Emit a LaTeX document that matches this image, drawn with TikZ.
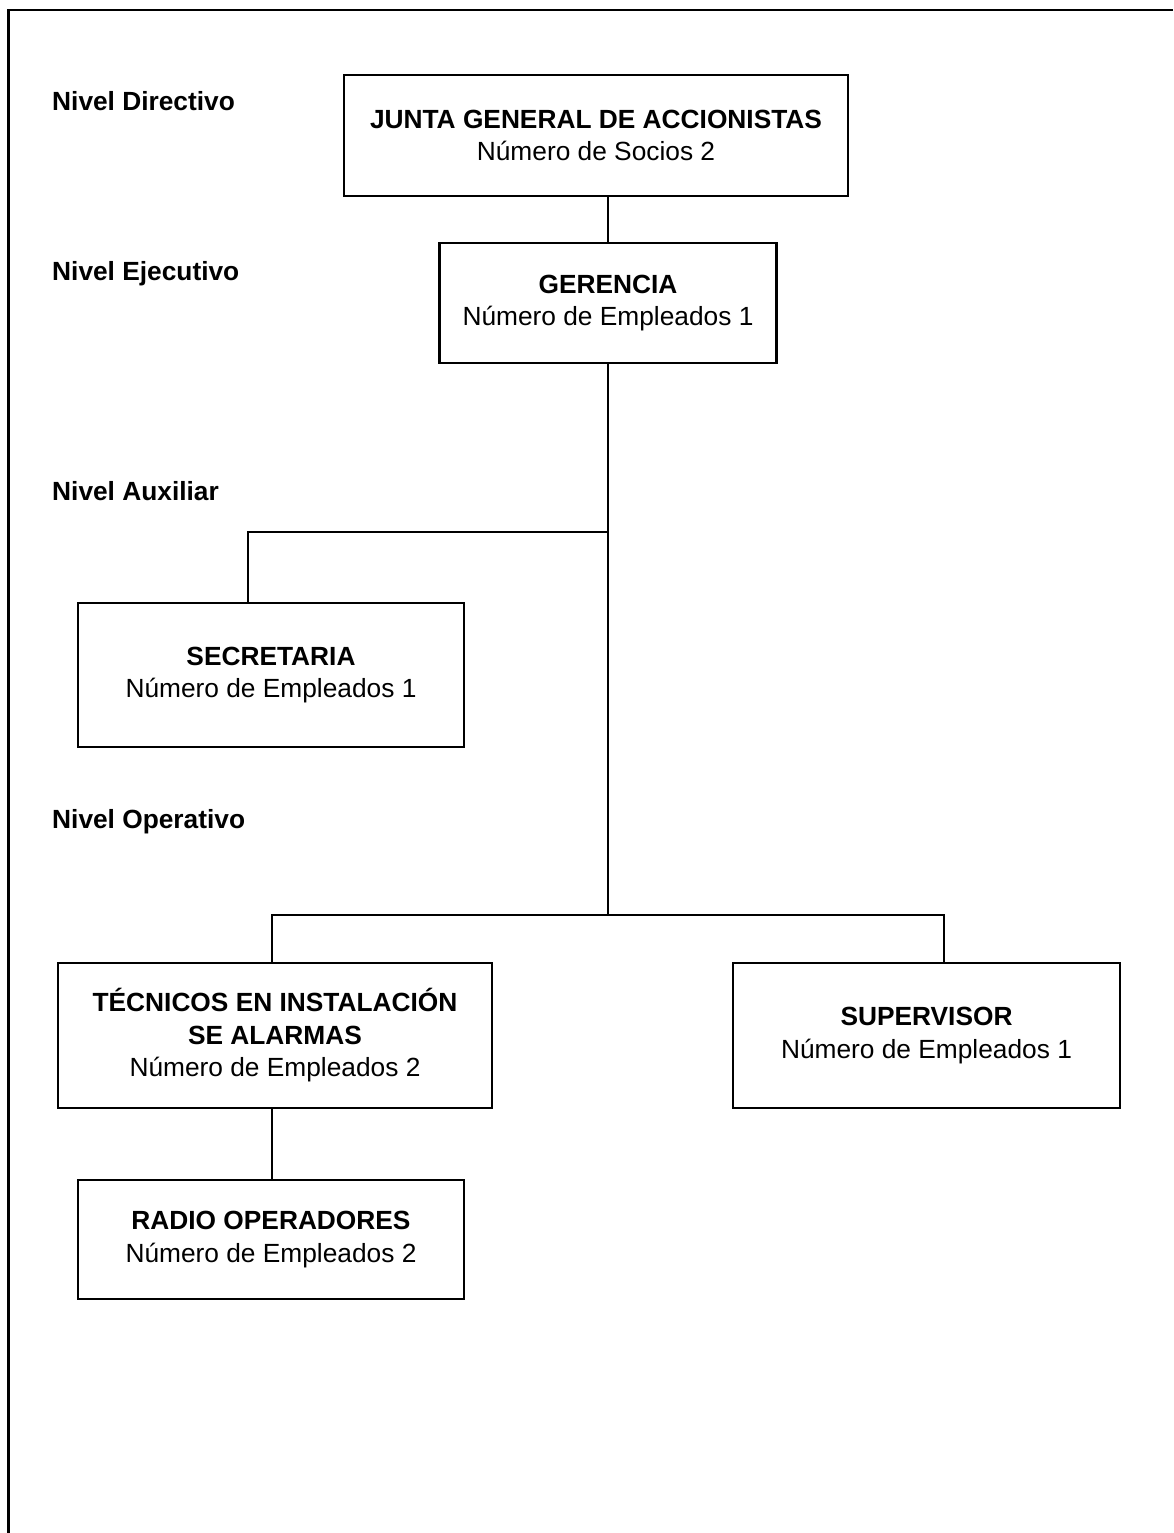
\documentclass[tikz,border=0pt]{standalone}
\usepackage{fontspec}
\setmainfont{Liberation Sans}
\begin{document}
\begin{tikzpicture}[x=1pt,y=-1pt,
  unit/.style={draw=black,line width=2.2pt,align=center,inner sep=0pt,
    font=\fontsize{26.3}{32.5}\selectfont},
  link/.style={draw=black,line width=1.9pt},
  level/.style={anchor=base west,inner sep=0pt,
    font=\fontsize{26.3}{32}\selectfont\bfseries}]
\useasboundingbox (0,0) rectangle (1173,1533);
\fill[white] (0,0) rectangle (1173,1533);

% page frame (open on the right and bottom)
\draw[line width=2.4pt] (1173,10) -- (8.5,10) -- (8.5,1533);

% hierarchy levels
\node[level] (lvdir) at (52,111) {Nivel Directivo};
\node[level] (lveje) at (52,280) {Nivel Ejecutivo};
\node[level] (lvaux) at (52,500) {Nivel Auxiliar};
\node[level] (lvope) at (52,828) {Nivel Operativo};

% units
\node[unit,minimum width=504pt,minimum height=121pt] (junta) at (596,135.5)
  {\textbf{JUNTA GENERAL DE ACCIONISTAS}\\Número de Socios 2};
\node[unit,minimum width=337pt,minimum height=120pt] (gerencia) at (608,303)
  {\textbf{GERENCIA}\\Número de Empleados 1};
\node[unit,minimum width=386pt,minimum height=144pt] (secretaria) at (271,675)
  {\textbf{SECRETARIA}\\Número de Empleados 1};
\node[unit,minimum width=434pt,minimum height=145pt] (tecnicos) at (275,1035.5)
  {\textbf{TÉCNICOS EN INSTALACIÓN}\\\textbf{SE ALARMAS}\\Número de Empleados 2};
\node[unit,minimum width=387pt,minimum height=145pt] (supervisor) at (926.5,1035.5)
  {\textbf{SUPERVISOR}\\Número de Empleados 1};
\node[unit,minimum width=386pt,minimum height=119pt] (radio) at (271,1239.5)
  {\textbf{RADIO OPERADORES}\\Número de Empleados 2};

% branch points
\coordinate (auxbus) at (608,532);
\coordinate (opsbus) at (608,915);
\coordinate (secdrop) at (248,532);
\coordinate (tecdrop) at (272,915);
\coordinate (supdrop) at (944,915);

% connectors
\draw[link] (gerencia.north) -- (gerencia.north |- junta.south);
\draw[link] (opsbus |- gerencia.south) -- (opsbus);
\draw[link] (auxbus) -- (secdrop) -- (secdrop |- secretaria.north);
\draw[link] (tecdrop |- tecnicos.north) -- (tecdrop) -- (supdrop)
  -- (supdrop |- supervisor.north);
\draw[link] (tecdrop |- tecnicos.south) -- (tecdrop |- radio.north);
\end{tikzpicture}
\end{document}
